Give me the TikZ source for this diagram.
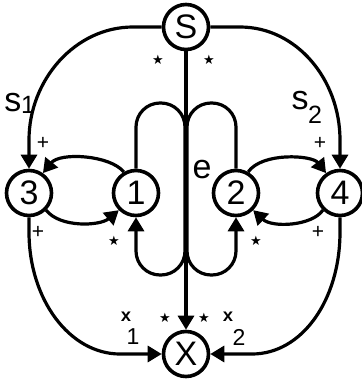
\documentclass[tikz,border=0pt]{standalone}
\usepackage{fontspec}
\setmainfont{Liberation Sans}
\newfontfamily\symfont{DejaVu Sans}
\newfontfamily\monofont{Liberation Mono}
\usetikzlibrary{arrows.meta}
\begin{document}
\begin{tikzpicture}[x=1pt,y=-1pt,
  state/.style={circle,draw,line width=3.6pt,minimum size=45pt,inner sep=0pt,font=\fontsize{34}{34}\selectfont},
  conn/.style={line width=3.2pt},
  arr/.style={conn,-{Triangle[length=14pt,width=16pt]}},
  starlab/.style={font=\symfont\fontsize{13}{13}\selectfont,inner sep=0pt},
  pluslab/.style={font=\fontsize{21}{21}\selectfont,inner sep=0pt},
  biglab/.style={font=\fontsize{34}{34}\selectfont,inner sep=0pt},
  sublab/.style={font=\fontsize{25}{25}\selectfont,inner sep=0pt},
  xlab/.style={font=\monofont\bfseries\fontsize{18}{18}\selectfont,inner sep=0pt},
  xsub/.style={font=\fontsize{23}{23}\selectfont,inner sep=0pt}
]
\useasboundingbox (0,0) rectangle (362,384);
\node[state] (S) at (186,27) {S};
\node[state] (X) at (186,354) {X};
\node[state] (n3) at (29,193) {3};
\node[state] (n1) at (136,193) {1};
\node[state] (n2) at (236,193) {2};
\node[state] (n4) at (340,193) {4};
% outer arcs
\draw[arr] (S.west) -- (133,27) .. controls (75,27) and (29,80) .. (29,140) -- (n3.north);
\draw[arr] (S.east) -- (240,27) .. controls (297,27) and (340,80) .. (340,140) -- (n4.north);
\draw[arr] (n3.south) -- (29,232) .. controls (29,300) and (70,354) .. (120,354) -- (X.west);
\draw[arr] (n4.south) -- (340,232) .. controls (340,300) and (302,354) .. (252,354) -- (X.east);
% centre
\draw[arr] (S.south) -- (X.north);
% loops
\draw[arr,rounded corners=24pt] (n1.north) -- (136,103) -- (185,103) -- (185,275) -- (136,275) -- (n1.south);
\draw[arr,rounded corners=24pt] (n2.north) -- (236,103) -- (187,103) -- (187,275) -- (236,275) -- (n2.south);
% inner arcs
\draw[arr] (n1.120) .. controls (110,155) and (60,152) .. (n3.55);
\draw[arr] (n3.-45) .. controls (60,228) and (100,226) .. (n1.-135);
\draw[arr] (n2.60) .. controls (262,152) and (312,155) .. (n4.125);
\draw[arr] (n4.-135) .. controls (312,226) and (272,228) .. (n2.-45);
% labels
\node[biglab] (s1s) at (13,103) {s};
\node[sublab] (s1n) at (28,105) {1};
\node[biglab] (s2s) at (300,101) {s};
\node[sublab] (s2n) at (315,115) {2};
\node[biglab] (e) at (202,170) {e};
\node[starlab] (st1) at (158,60) {★};
\node[starlab] (st2) at (209,60) {★};
\node[starlab] (st3) at (165,318) {★};
\node[starlab] (st4) at (204,318) {★};
\node[starlab] (st5) at (114,241) {★};
\node[starlab] (st6) at (256,241) {★};
\node[pluslab] (p1) at (43,143) {+};
\node[pluslab] (p2) at (38,232) {+};
\node[pluslab] (p3) at (320,143) {+};
\node[pluslab] (p4) at (318,232) {+};
\node[xlab] (x1) at (126,317) {x};
\node[xsub] (x1n) at (133,337) {1};
\node[xlab] (x2) at (228,317) {x};
\node[xsub] (x2n) at (239,337) {2};
\end{tikzpicture}
\end{document}
